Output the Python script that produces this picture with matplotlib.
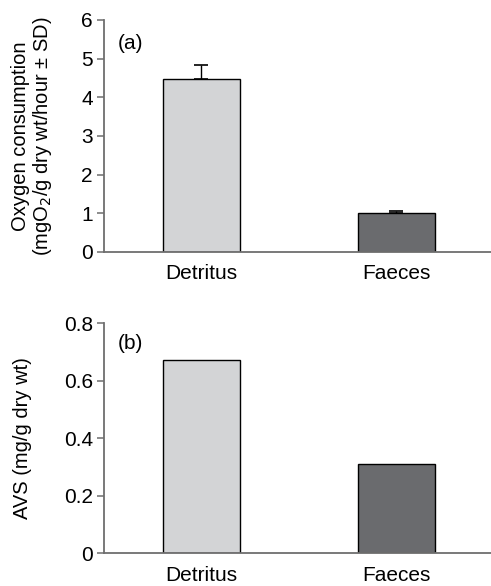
import numpy as np
import matplotlib.pyplot as plt

plt.rcParams['font.family'] = ['Liberation Sans', 'DejaVu Sans']

# data
categories = ['Detritus', 'Faeces']
oxygen = [4.48, 1.02]
oxygen_sd = [0.35, 0.05]
avs = [0.672, 0.31]
bar_colors = ['#d3d4d6', '#6a6b6e']

fig = plt.figure(figsize=(4.91, 5.86), dpi=100)
ax1 = fig.add_axes([0.2118, 0.570, 0.7882, 0.3959])
ax2 = fig.add_axes([0.2118, 0.0563, 0.7882, 0.3925])

x = np.arange(len(categories))
spine_col = '#6e6e6e'

def style(ax):
    for s in ['top', 'right']:
        ax.spines[s].set_visible(False)
    for s in ['left', 'bottom']:
        ax.spines[s].set_color(spine_col)
        ax.spines[s].set_linewidth(1.3)
    ax.tick_params(axis='y', length=5, width=1.1, color=spine_col, labelsize=15, pad=3)
    ax.tick_params(axis='x', length=0, labelsize=15, pad=9)
    ax.set_xlim(-0.5, 1.485)
    ax.set_xticks(x)
    ax.set_xticklabels(categories)

# (a) oxygen consumption
ax1.bar(x, oxygen, width=0.395, color=bar_colors, edgecolor='black', linewidth=1.0, zorder=2)
ax1.errorbar(x, oxygen, yerr=[np.zeros(2), oxygen_sd], fmt='none', ecolor='black',
             elinewidth=1.0, capsize=5, capthick=1.2, zorder=3)
ax1.set_ylim(0, 6)
ax1.set_yticks(range(0, 7))
style(ax1)
ax1.set_ylabel('Oxygen consumption\n(mgO$_2$/g dry wt/hour ± SD)', fontsize=14.5,
               linespacing=1.05)
ax1.yaxis.set_label_coords(-0.129, 0.5)
ax1.text(0.036, 0.90, '(a)', transform=ax1.transAxes, fontsize=15, va='center')

# (b) AVS
ax2.bar(x, avs, width=0.395, color=bar_colors, edgecolor='black', linewidth=1.0, zorder=2)
ax2.set_ylim(0, 0.8)
ax2.set_yticks([0, 0.2, 0.4, 0.6, 0.8])
ax2.set_yticklabels(['0', '0.2', '0.4', '0.6', '0.8'])
style(ax2)
ax2.set_ylabel('AVS (mg/g dry wt)', fontsize=14.5)
ax2.yaxis.set_label_coords(-0.186, 0.5)
ax2.text(0.036, 0.913, '(b)', transform=ax2.transAxes, fontsize=15, va='center')

fig.savefig('out.png', dpi=100)
